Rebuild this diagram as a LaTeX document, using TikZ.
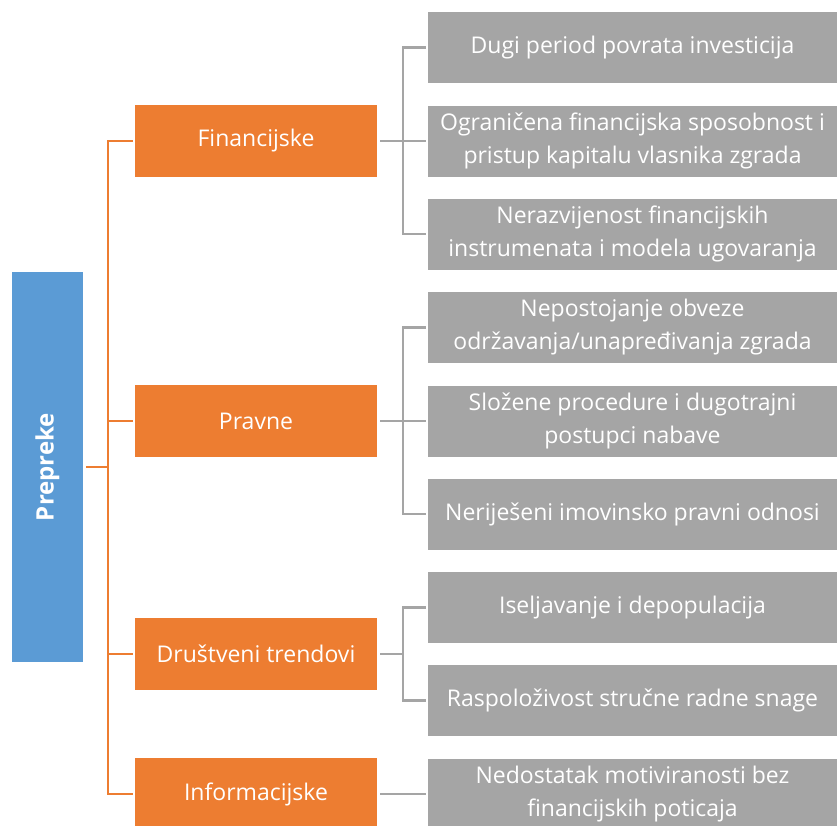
\documentclass[tikz,border=0pt]{standalone}
\usepackage{fontspec}
\setmainfont{Open Sans}
\usetikzlibrary{positioning,calc}

\definecolor{prepblue}{HTML}{5B9BD5}
\definecolor{grporange}{HTML}{ED7D31}
\definecolor{itemgray}{HTML}{A5A5A5}

\begin{document}
\begin{tikzpicture}[x=1pt, y=-1pt,
      root/.style={rectangle, fill=prepblue, text=white, inner sep=0pt, minimum width=71pt, minimum height=390pt, font=\fontsize{24}{30}\selectfont\bfseries},
      group/.style={rectangle, fill=grporange, text=white, align=center, inner sep=0pt, minimum width=242pt, minimum height=72pt, font=\fontsize{23}{30}\selectfont},
      item/.style={rectangle, fill=itemgray, text=white, align=center, inner sep=0pt, minimum width=409pt, minimum height=71pt, font=\fontsize{23}{33}\selectfont},
      oline/.style={draw=grporange, line width=2.2pt, shorten <=3pt, shorten >=2pt},
      gline/.style={draw=itemgray, line width=2.2pt, shorten <=3pt, shorten >=2pt},
      ]
      \useasboundingbox (0,0) rectangle (837,825);

      \node[root] (PR) at (47.5,467) {\rotatebox{90}{Prepreke}};

      \node[group] (FI) at (256,141) {Financijske};
      \node[group] (PV) at (256,421) {Pravne};
      \node[group] (DT) at (256,654) {Društveni trendovi};
      \node[group] (IN) at (256,794) {Informacijske};

      \node[item] (F1) at (632.5,47.5) {Dugi period povrata investicija};
      \node[item] (F2) at (632.5,141) {Ograničena financijska sposobnost i\\pristup kapitalu vlasnika zgrada};
      \node[item] (F3) at (632.5,234) {Nerazvijenost financijskih\\instrumenata i modela ugovaranja};
      \node[item] (P1) at (632.5,327.5) {Nepostojanje obveze\\održavanja/unapređivanja zgrada};
      \node[item] (P2) at (632.5,421) {Složene procedure i dugotrajni\\postupci nabave};
      \node[item] (P3) at (632.5,514) {Neriješeni imovinsko pravni odnosi};
      \node[item] (D1) at (632.5,607.5) {Iseljavanje i depopulacija};
      \node[item] (D2) at (632.5,700.5) {Raspoloživost stručne radne snage};
      \node[item] (I1) at (632.5,794) {Nedostatak motiviranosti bez\\financijskih poticaja};

      % root to groups
      \foreach \g in {FI,PV,DT,IN}
        \draw[oline] (PR.east) -- ++(25,0) |- (\g.west);

      % groups to items
      \foreach \i in {F1,F2,F3}
        \draw[gline] (FI.east) -- ++(26,0) |- (\i.west);
      \foreach \i in {P1,P2,P3}
        \draw[gline] (PV.east) -- ++(26,0) |- (\i.west);
      \foreach \i in {D1,D2}
        \draw[gline] (DT.east) -- ++(26,0) |- (\i.west);
      \draw[gline] (IN.east) -- (I1.west);
    \end{tikzpicture}
\end{document}
